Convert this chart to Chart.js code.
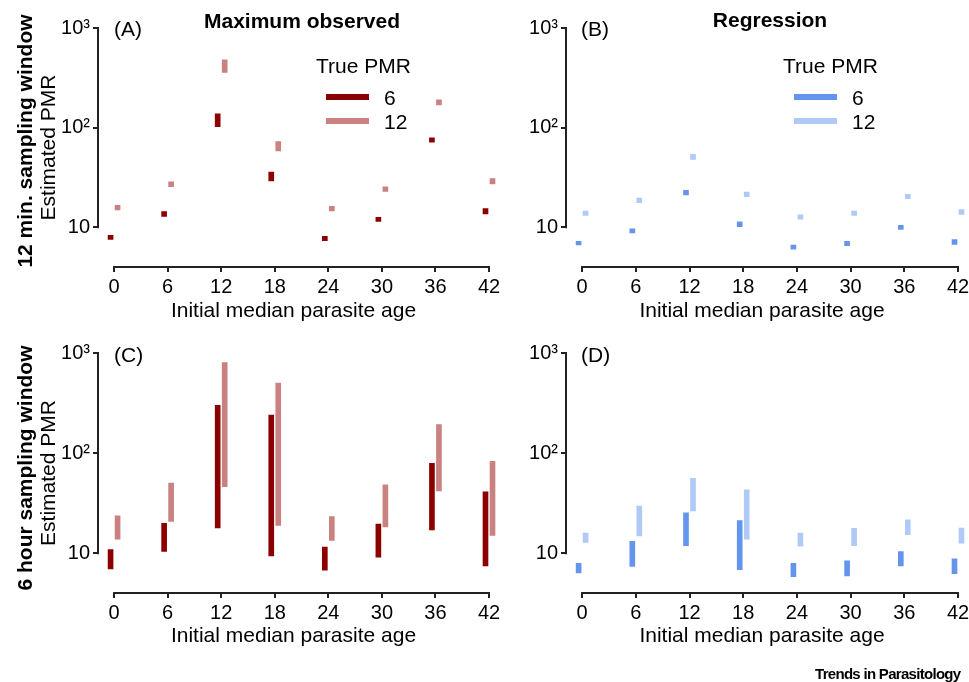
<!DOCTYPE html>
<html>
<head>
<meta charset="utf-8">
<script src="https://cdn.jsdelivr.net/npm/chart.js@4.4.1/dist/chart.umd.min.js"></script>
<style>
  html, body { margin: 0; padding: 0; background: #fff; overflow: hidden; }
  body { width: 969px; height: 682px; position: relative; font-family: "Liberation Sans", Arial, sans-serif; color: #000; }
  canvas { position: absolute; }
  .txt { position: absolute; white-space: nowrap; line-height: 1; font-size: 21px; }
  .bold { font-weight: bold; }
  .rot { transform: translate(-50%, -50%) rotate(-90deg); }
  .swatch { position: absolute; width: 43px; height: 6px; }
  .logo { position: absolute; font-weight: bold; font-size: 15px; letter-spacing: -0.7px; line-height: 1; white-space: nowrap; }
</style>
</head>
<body>

<canvas id="panelA" width="509" height="335" style="left:0;top:0"></canvas>
<canvas id="panelB" width="485" height="335" style="left:484px;top:0"></canvas>
<canvas id="panelC" width="509" height="325" style="left:0;top:335px"></canvas>
<canvas id="panelD" width="485" height="325" style="left:484px;top:335px"></canvas>

<div class="txt bold rot" style="left:24px;top:141px">12 min. sampling window</div>
<div class="txt bold rot" style="left:24px;top:468px">6 hour sampling window</div>

<div class="txt bold" style="left:302px;top:10px;transform:translateX(-50%)">Maximum observed</div>
<div class="txt bold" style="left:770px;top:9px;transform:translateX(-50%)">Regression</div>

<div class="txt" style="left:114px;top:18px">(A)</div>
<div class="txt" style="left:581px;top:18px">(B)</div>
<div class="txt" style="left:114px;top:344px">(C)</div>
<div class="txt" style="left:581px;top:344px">(D)</div>

<!-- legend, panel A -->
<div class="txt" style="left:316px;top:55px">True PMR</div>
<div class="swatch" style="left:326px;top:94px;background:#8B0000"></div>
<div class="txt" style="left:384px;top:87px">6</div>
<div class="swatch" style="left:326px;top:118px;background:#C98181"></div>
<div class="txt" style="left:384px;top:111px">12</div>

<!-- legend, panel B -->
<div class="txt" style="left:783px;top:55px">True PMR</div>
<div class="swatch" style="left:794px;top:94px;background:#6495ED"></div>
<div class="txt" style="left:852px;top:87px">6</div>
<div class="swatch" style="left:794px;top:118px;background:#AFCAF6"></div>
<div class="txt" style="left:852px;top:111px">12</div>

<div class="logo" style="left:815px;top:666px">Trends in Parasitology</div>

<script>
// initial median parasite age (hours)
const ages = [0, 6, 12, 18, 24, 30, 36, 42];
const ageTicks = [0, 6, 12, 18, 24, 30, 36, 42];
const pmrTicks = [10, 100, 1000];
const pmrTickLabels = ["10", "10²", "10³"];

// estimated PMR ranges [low, high], one per age
// (A) maximum observed, 12 min. window
const maxObs12min_pmr6 = [[7.4, 8.5], [12.6, 14.7], [100, 141], [28.6, 36.6], [7.2, 8.3], [11.2, 12.9], [70, 81], [13.3, 15.8]];
const maxObs12min_pmr12 = [[14.6, 17], [25, 29.3], [350, 490], [57, 74], [14.3, 16.6], [22.4, 26.1], [165, 195], [26.7, 31.6]];
// (B) regression, 12 min. window
const regr12min_pmr6 = [[6.5, 7.4], [8.6, 9.9], [20.7, 24], [9.9, 11.6], [5.9, 6.8], [6.4, 7.4], [9.3, 10.7], [6.6, 7.7]];
const regr12min_pmr12 = [[12.9, 14.9], [17.3, 20.1], [47, 55.4], [19.8, 23.1], [11.8, 13.7], [12.9, 14.9], [18.9, 21.9], [13.2, 15.4]];
// (C) maximum observed, 6 hour window
const maxObs6h_pmr6 = [[6.8, 11.1], [10.2, 20.3], [17.5, 307], [9.2, 245], [6.6, 11.8], [8.9, 20], [16.7, 80.7], [7.3, 42]];
const maxObs6h_pmr12 = [[13.5, 24.2], [20.3, 51.3], [45, 819], [18.5, 513], [13.1, 23.8], [17.9, 49.4], [41, 197], [14.7, 84.5]];
// (D) regression, 6 hour window
const regr6h_pmr6 = [[6.2, 8.1], [7.2, 13.4], [11.6, 25.9], [6.7, 21.7], [5.7, 8.1], [5.8, 8.6], [7.3, 10.6], [6.1, 9.0]];
const regr6h_pmr12 = [[12.5, 16.2], [14.5, 30.2], [25.9, 57.1], [13.5, 44], [11.5, 16.2], [11.6, 18.1], [15, 22], [12.3, 18.2]];

const FONT = "'Liberation Sans', Arial, sans-serif";
Chart.defaults.font.family = FONT;
Chart.defaults.color = "#000";

// draw the axis lines only over the tick range, ggplot style
const axisLines = {
  id: "axisLines",
  afterDraw(chart) {
    const { ctx, chartArea, scales: { x, y } } = chart;
    ctx.save();
    ctx.strokeStyle = "#222";
    ctx.lineWidth = 2;
    ctx.beginPath();
    ctx.moveTo(x.getPixelForValue(ageTicks[0]) - 1, chartArea.bottom);
    ctx.lineTo(x.getPixelForValue(ageTicks[ageTicks.length - 1]) + 1, chartArea.bottom);
    ctx.moveTo(chartArea.left, y.getPixelForValue(pmrTicks[pmrTicks.length - 1]) - 1);
    ctx.lineTo(chartArea.left, y.getPixelForValue(pmrTicks[0]) + 1);
    ctx.stroke();
    ctx.restore();
  }
};

function toPoints(ranges) {
  return ages.map((a, i) => ({ x: a, y: ranges[i] }));
}

function makePanel(id, low, high, colors, opt) {
  new Chart(document.getElementById(id), {
    type: "bar",
    data: {
      datasets: [
        { label: "6", data: toPoints(low), backgroundColor: colors[0] },
        { label: "12", data: toPoints(high), backgroundColor: colors[1] }
      ]
    },
    options: {
      responsive: false,
      animation: false,
      events: [],
      barThickness: 7,
      borderWidth: 1,
      borderColor: "rgba(255,255,255,0.6)",
      borderSkipped: false,
      clip: false,
      layout: { padding: { left: 0, right: opt.padRight, top: opt.padTop, bottom: 0 } },
      plugins: { legend: { display: false }, tooltip: { enabled: false } },
      scales: {
        x: {
          type: "linear",
          offset: false,
          min: -1.8,
          max: 42,
          afterBuildTicks: (s) => { s.ticks = ageTicks.map((v) => ({ value: v })); },
          afterFit: (s) => { s.height = opt.xHeight; s.paddingLeft = 0; s.paddingRight = 0; },
          grid: { offset: false, drawOnChartArea: false, drawTicks: true, tickLength: 5, lineWidth: 2, color: "#222" },
          border: { display: false },
          ticks: { font: { size: 20 }, color: "#000", padding: 3, maxRotation: 0, autoSkip: false },
          title: { display: true, text: "Initial median parasite age", font: { size: 21 }, color: "#000", padding: { top: 0, bottom: 11 } }
        },
        y: {
          type: "logarithmic",
          min: 4,
          max: 1000,
          afterBuildTicks: (s) => { s.ticks = pmrTicks.map((v) => ({ value: v })); },
          afterFit: (s) => { s.width = opt.yWidth; s.paddingTop = 0; s.paddingBottom = 0; },
          grid: { drawOnChartArea: false, drawTicks: true, tickLength: 5, lineWidth: 2, color: "#222" },
          border: { display: false },
          ticks: {
            font: { size: 20 },
            color: "#000",
            padding: 3,
            autoSkip: false,
            callback: (v) => pmrTickLabels[pmrTicks.indexOf(v)]
          },
          title: { display: opt.yTitle, text: "Estimated PMR", font: { size: 21 }, color: "#000", padding: { top: 37, bottom: 0 } }
        }
      }
    },
    plugins: [axisLines]
  });
}

const reds = ["#8B0000", "#C98181"];
const blues = ["#6495ED", "#AFCAF6"];

makePanel("panelA", maxObs12min_pmr6, maxObs12min_pmr12, reds, { yWidth: 98, yTitle: true, padTop: 28, padRight: 20, xHeight: 68 });
makePanel("panelB", regr12min_pmr6, regr12min_pmr12, blues, { yWidth: 82, yTitle: false, padTop: 28, padRight: 11, xHeight: 68 });
makePanel("panelC", maxObs6h_pmr6, maxObs6h_pmr12, reds, { yWidth: 98, yTitle: true, padTop: 18, padRight: 20, xHeight: 67 });
makePanel("panelD", regr6h_pmr6, regr6h_pmr12, blues, { yWidth: 82, yTitle: false, padTop: 18, padRight: 11, xHeight: 67 });
</script>
</body>
</html>
